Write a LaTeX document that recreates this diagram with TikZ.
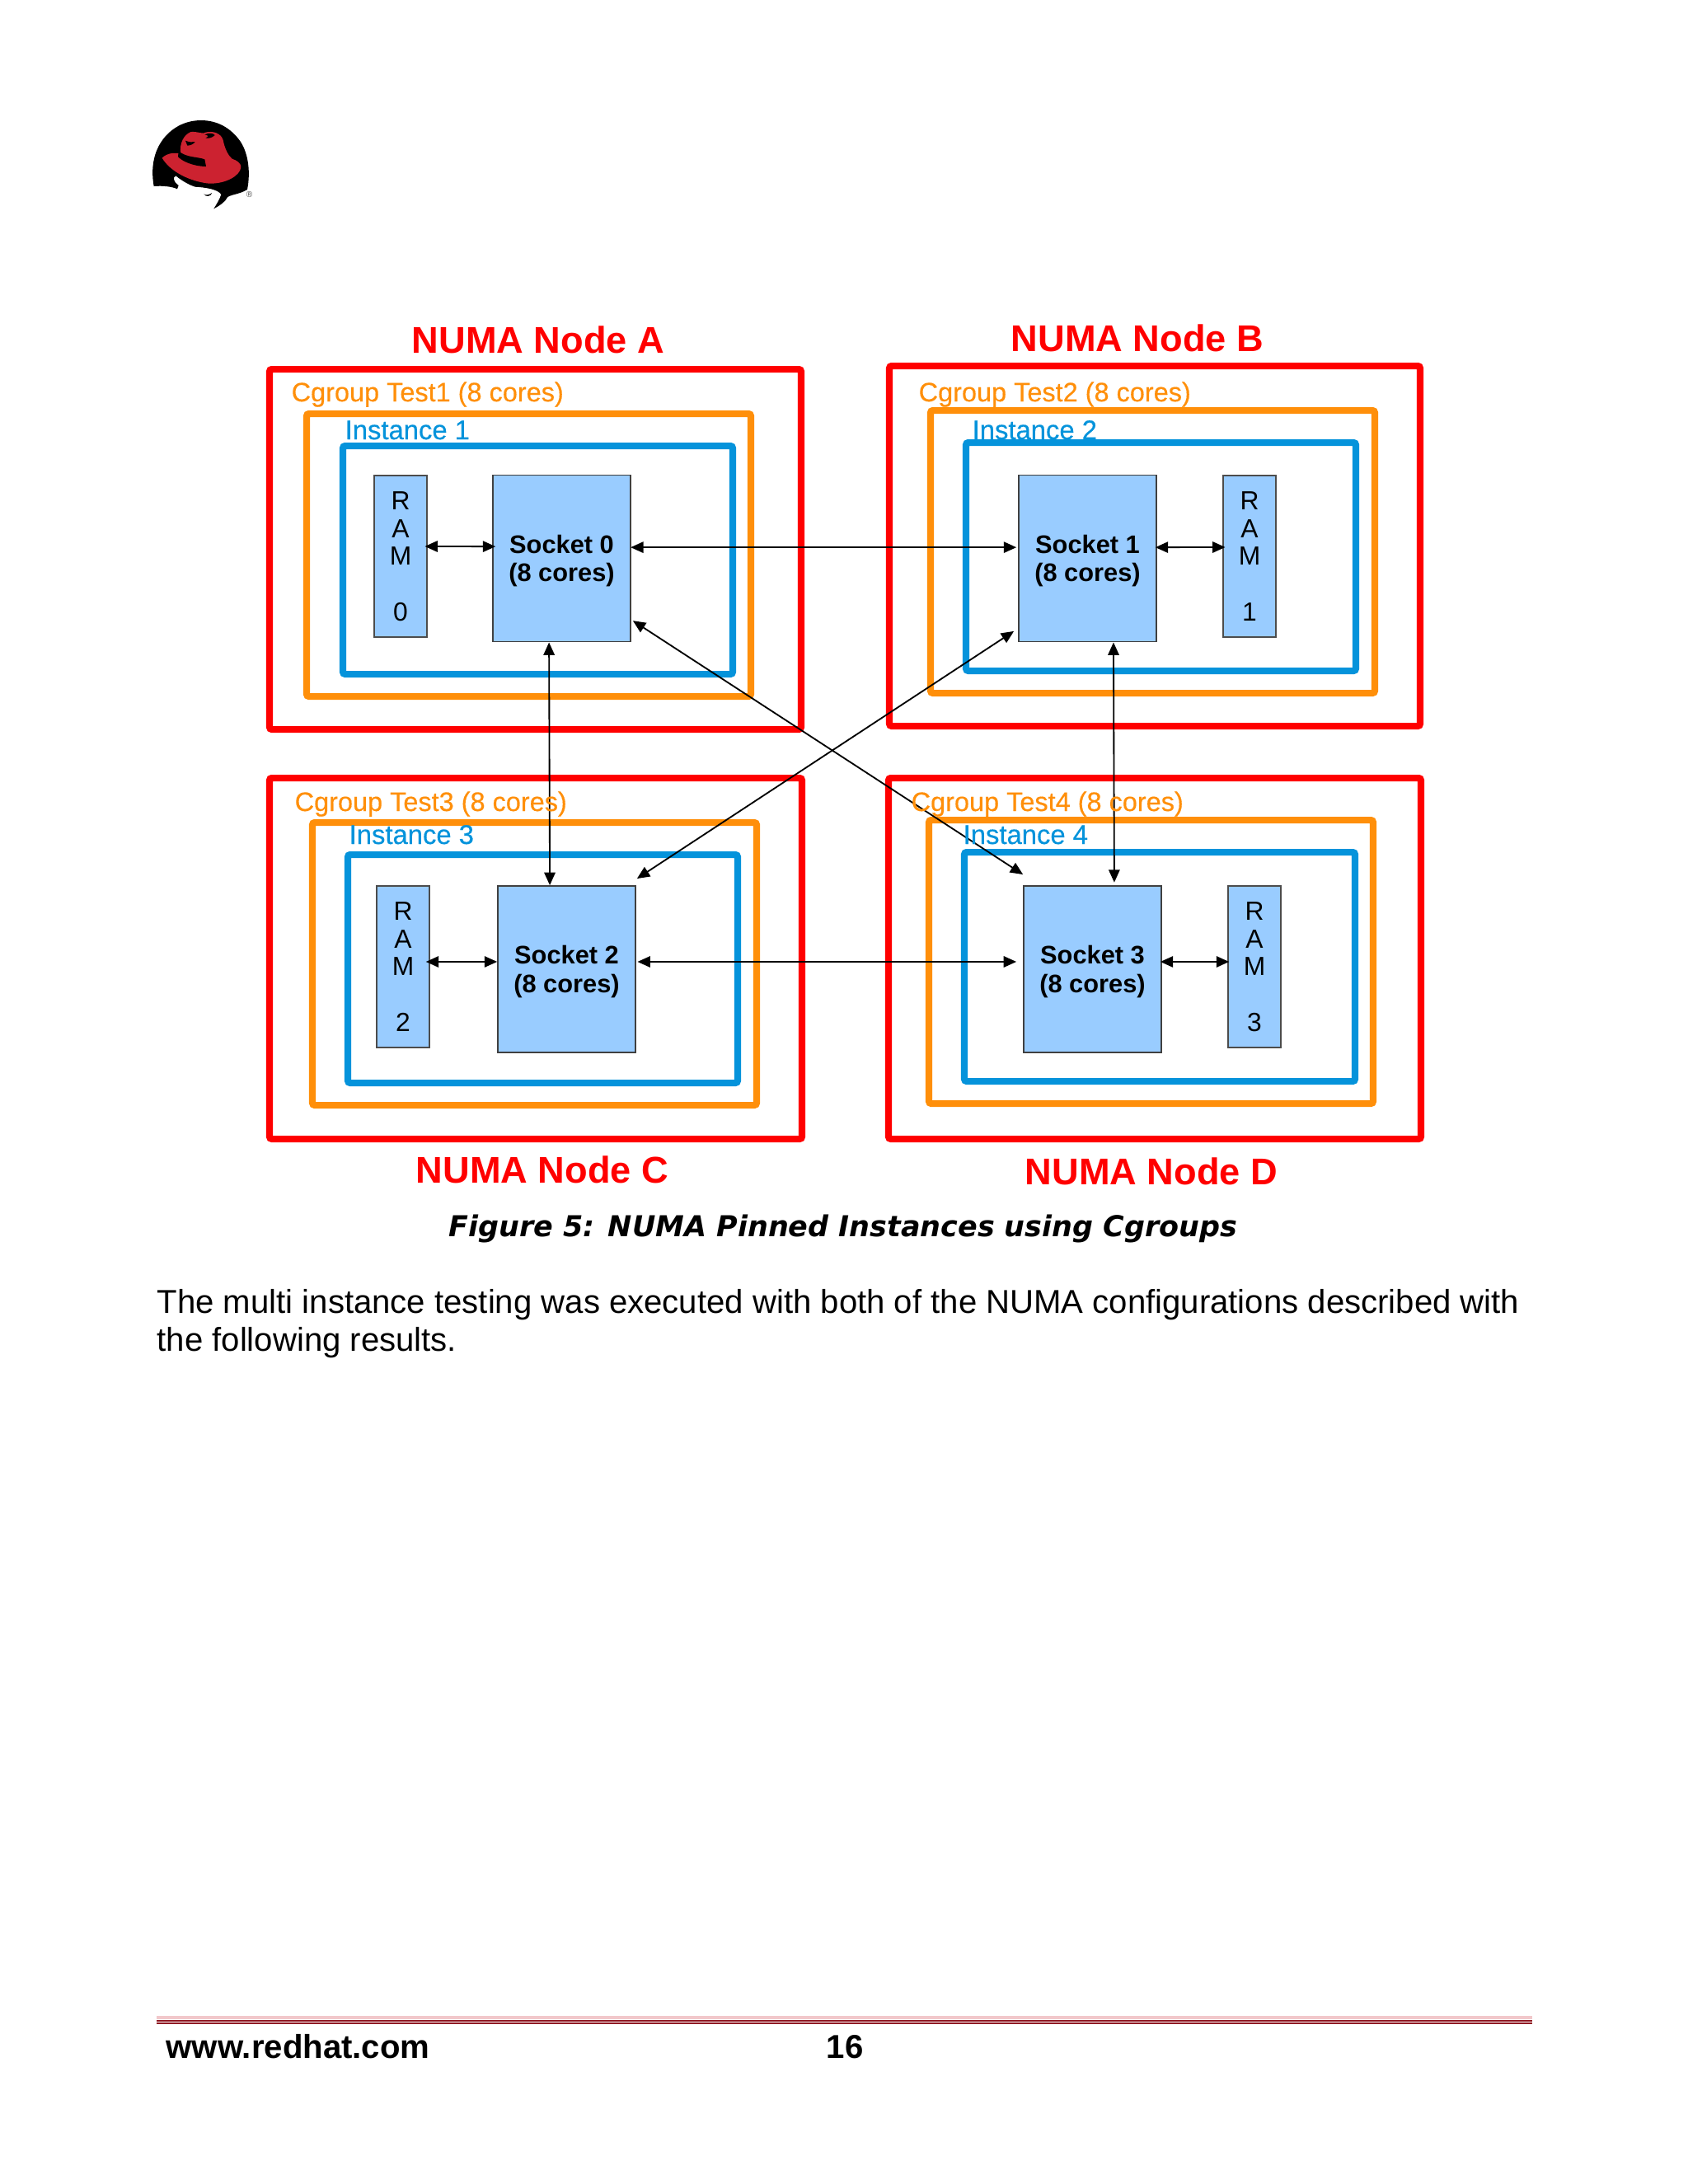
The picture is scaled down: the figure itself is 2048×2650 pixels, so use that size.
\documentclass[tikz,border=0pt]{standalone}
\usepackage{fontspec}
\setmainfont{Liberation Sans}
\newfontfamily\capfont{DejaVu Sans}
\newfontfamily\labelfont[FakeBold=0.35]{Liberation Sans}
\usepackage{xcolor}
\usetikzlibrary{arrows.meta, positioning, calc}
\definecolor{numared}{HTML}{FF0000}
\definecolor{cgrouporange}{HTML}{FF8F0A}
\definecolor{instblue}{HTML}{0593DB}
\definecolor{boxblue}{HTML}{99CCFF}
\definecolor{hatred}{HTML}{CC2230}
\tikzset{
  numabox/.style 2 args={
    rectangle, draw=numared, line width=2.4pt, rounded corners=0.8pt,
    inner sep=0pt, minimum width=#1*0.2988pt, minimum height=#2*0.2988pt
  },
  cgroupbox/.style 2 args={
    numabox={#1}{#2}, draw=cgrouporange
  },
  instbox/.style 2 args={
    numabox={#1}{#2}, draw=instblue
  },
  socket/.style={
    rectangle, draw=black!75, line width=0.5pt, fill=boxblue,
    inner sep=0pt, minimum width=49.9pt, minimum height=60.4pt,
    align=center, font=\fontsize{9.2}{10.4}\selectfont\bfseries,
    text height=18.9pt
  },
  ram/.style={
    rectangle, draw=black!70, line width=0.5pt, fill=boxblue,
    inner sep=0pt, minimum width=19.1pt, minimum height=58.6pt,
    align=center, font=\fontsize{9.5}{10.1}\selectfont
  },
  linktip/.tip={Triangle[length=4.6pt,width=4pt]},
  link/.style={linktip-linktip, line width=0.55pt, draw=black},
  numalabel/.style={anchor=base, text=numared, font=\fontsize{13.5}{15}\selectfont\bfseries},
  cgrouplabel/.style={anchor=base west, inner sep=0pt, text=cgrouporange, font=\labelfont\fontsize{9.7}{11}\selectfont},
  instlabel/.style={anchor=base west, inner sep=0pt, text=instblue, font=\labelfont\fontsize{9.8}{11}\selectfont}
}
\begin{document}
\begin{tikzpicture}[x=0.2988pt, y=-0.2988pt]
  \useasboundingbox (0,0) rectangle (2048,2650);

  % logo
  \begin{scope}[shift={(170,130)}, x=0.0996pt, y=-0.0996pt]
    \fill[black] (50,288) .. controls (38,220) and (50,160) .. (85,115)
      .. controls (120,70) and (170,48) .. (222,48)
      .. controls (280,48) and (330,75) .. (365,125)
      .. controls (395,170) and (402,240) .. (390,300)
      .. controls (360,318) and (330,318) .. (318,328)
      .. controls (310,345) and (290,358) .. (268,370)
      .. controls (280,350) and (290,335) .. (295,318)
      .. controls (285,300) and (240,292) .. (200,290)
      .. controls (170,280) and (145,262) .. (130,250)
      .. controls (118,255) and (120,270) .. (140,285)
      -- (135,298) .. controls (120,290) and (85,285) .. (50,288) -- cycle;
    \fill[hatred] (80,185) .. controls (100,165) and (130,165) .. (148,170)
      .. controls (142,130) and (160,100) .. (185,90)
      .. controls (210,88) and (230,100) .. (238,92)
      .. controls (265,85) and (295,95) .. (302,120)
      .. controls (310,160) and (325,180) .. (335,188)
      .. controls (355,195) and (367,205) .. (367,218)
      .. controls (365,250) and (310,280) .. (250,278)
      .. controls (180,270) and (110,235) .. (80,185) -- cycle;
    \fill[black] (140,160) .. controls (170,185) and (210,180) .. (235,190)
      -- (240,216) .. controls (190,215) and (150,195) .. (138,180) -- cycle;
    \fill[black] (165,122) .. controls (180,128) and (190,128) .. (200,126)
      .. controls (195,135) and (180,140) .. (172,140) -- cycle;
    \fill[black] (235,100) .. controls (250,92) and (268,95) .. (272,102)
      .. controls (262,112) and (248,115) .. (238,112) .. controls (250,108) and (250,102) .. (235,100) -- cycle;
    \fill[black] (232,316) .. controls (240,322) and (250,320) .. (262,312)
      .. controls (258,324) and (240,330) .. (232,316) -- cycle;
    \node[font=\fontsize{3}{3}\selectfont, text=black!70, inner sep=0pt] (regmark) at (398,318) {®};
  \end{scope}

  % frames
  \node[numabox={645}{437}] (nodeA) at (649.5,666.5) {};
  \node[numabox={644}{437}] (nodeB) at (1401,662.5) {};
  \node[numabox={646}{438}] (nodeC) at (650,1163) {};
  \node[numabox={646}{438}] (nodeD) at (1401,1163) {};
  \node[cgroupbox={539}{343}] (cgroupA) at (641.5,673.5) {};
  \node[cgroupbox={539}{343}] (cgroupB) at (1398.5,669.5) {};
  \node[cgroupbox={539}{343}] (cgroupC) at (648.5,1169.5) {};
  \node[cgroupbox={539}{344}] (cgroupD) at (1396.5,1167) {};
  \node[instbox={473}{277}] (instA) at (652.5,679.5) {};
  \node[instbox={473}{277}] (instB) at (1408.5,675.5) {};
  \node[instbox={473}{277}] (instC) at (658.5,1175.5) {};
  \node[instbox={474}{278}] (instD) at (1407,1173) {};

  % sockets and memory
  \node[socket] (socket0) at (681.5,677.5) {Socket 0\\(8 cores)};
  \node[socket] (socket1) at (1319.5,677.5) {Socket 1\\(8 cores)};
  \node[socket] (socket2) at (687.5,1176) {Socket 2\\(8 cores)};
  \node[socket] (socket3) at (1325.5,1176) {Socket 3\\(8 cores)};
  \node[ram] (ram0) at (486,675) {R\\A\\M\\ \\0};
  \node[ram] (ram1) at (1516,675) {R\\A\\M\\ \\1};
  \node[ram] (ram2) at (489,1173) {R\\A\\M\\ \\2};
  \node[ram] (ram3) at (1522,1173) {R\\A\\M\\ \\3};

  \draw[link, shorten <=-1pt, shorten >=-1.2pt] ([yshift=3.6pt]ram0.east) -- ([yshift=4.3pt]socket0.west);
  \draw[link, shorten <=-0.6pt, shorten >=-1pt] ([yshift=4pt]socket1.east) -- ([yshift=3.3pt]ram1.west);
  \draw[link, shorten <=-1.5pt] ([yshift=1.8pt]ram2.east) -- ([yshift=2.7pt]socket2.west);
  \draw[link, shorten <=-0.6pt, shorten >=-0.6pt] ([yshift=2.7pt]socket3.east) -- ([yshift=1.8pt]ram3.west);
  \draw[link, shorten <=-0.2pt, shorten >=0.6pt] ([yshift=4pt]socket0.east) -- ([yshift=4pt]socket1.west);
  \draw[link, shorten <=0.5pt, shorten >=2.4pt] ([yshift=2.7pt]socket2.east) -- ([yshift=2.7pt]socket3.west);
  \draw[link] ([xshift=-4.6pt]socket0.south) -- ([xshift=-6.1pt]socket2.north);
  \draw[link, shorten >=1pt] ([xshift=9.4pt]socket1.south) -- ([xshift=7.9pt]socket3.north);
  \draw[link] ([xshift=0.6pt,yshift=-22.6pt]socket0.east) -- ([yshift=3.9pt]socket3.north west);
  \draw[link] ([xshift=-1.5pt,yshift=-26.4pt]socket1.west) -- ([xshift=0.3pt,yshift=2.4pt]socket2.north east);

  % labels
  \node[numalabel] (labelA) at (653,428) {NUMA Node A};
  \node[numalabel] (labelB) at (1380,426) {NUMA Node B};
  \node[numalabel] (labelC) at (658,1435) {NUMA Node C};
  \node[numalabel] (labelD) at (1397,1437) {NUMA Node D};
  \node[cgrouplabel] (testA) at (353,487) {Cgroup Test1 (8 cores)};
  \node[cgrouplabel] (testB) at (1114,487) {Cgroup Test2 (8 cores)};
  \node[cgrouplabel] (testC) at (357,984) {Cgroup Test3 (8 cores)};
  \node[cgrouplabel] (testD) at (1105,984) {Cgroup Test4 (8 cores)};
  \node[instlabel] (inst1) at (418,533) {Instance 1};
  \node[instlabel] (inst2) at (1179,533) {Instance 2};
  \node[instlabel] (inst3) at (423,1024) {Instance 3};
  \node[instlabel] (inst4) at (1168,1024) {Instance 4};

  % caption and body text
  \node[anchor=base west, inner sep=0pt, font=\capfont\fontsize{10.44}{12}\selectfont\bfseries\itshape] (caption) at (544,1500) {Figure 5: NUMA Pinned Instances using Cgroups};
  \node[anchor=base west, inner sep=0pt, font=\fontsize{11.99}{14}\selectfont] (para1) at (190,1593) {The multi instance testing was executed with both of the NUMA configurations described with};
  \node[anchor=base west, inner sep=0pt, font=\fontsize{11.99}{14}\selectfont] (para2) at (190,1639) {the following results.};

  % footer
  \coordinate (ruleL) at (190,2448);
  \coordinate (ruleR) at (1859,2448);
  \draw[line width=1.2pt, draw=hatred!25] (ruleL) -- (ruleR);
  \draw[line width=0.4pt, draw=hatred!70!black] ([yshift=-1.2pt]ruleL) -- ([yshift=-1.2pt]ruleR);
  \draw[line width=0.4pt, draw=hatred!70!black] ([yshift=-2.1pt]ruleL) -- ([yshift=-2.1pt]ruleR);
  \node[anchor=base west, inner sep=0pt, font=\fontsize{12}{14}\selectfont\bfseries] (website) at (201,2497) {www.redhat.com};
  \node[anchor=base west, inner sep=0pt, font=\fontsize{12}{14}\selectfont\bfseries] (pagenum) at (1002,2497) {16};
\end{tikzpicture}
\end{document}
